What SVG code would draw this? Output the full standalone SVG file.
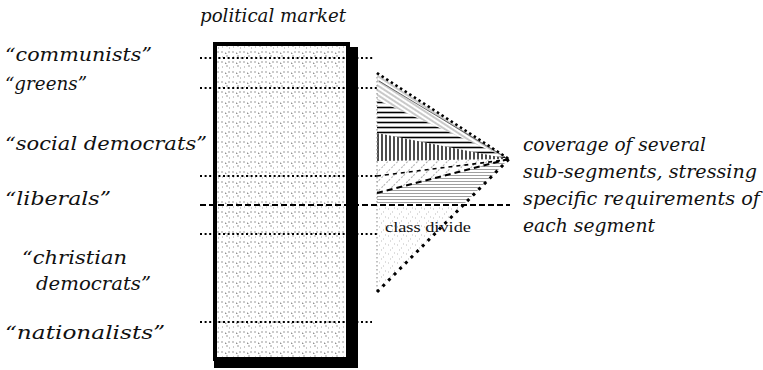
<svg xmlns="http://www.w3.org/2000/svg" width="763" height="370" viewBox="0 0 763 370">
<defs>
<style>
.lbl{font-family:"DejaVu Serif","Liberation Serif",serif;font-style:italic;font-size:19px;fill:#111}
.rt{font-family:"DejaVu Serif","Liberation Serif",serif;font-style:italic;font-size:19px;fill:#111}
.cd{font-family:"Liberation Serif",serif;font-size:15px;fill:#111}
.dot{fill:none;stroke:#000;stroke-width:2;stroke-dasharray:2 2.6}
.dash{fill:none;stroke:#000;stroke-width:2;stroke-dasharray:6 3}
</style>
<pattern id="stip" width="11" height="10" patternUnits="userSpaceOnUse">
<rect width="11" height="10" fill="#fff"/>
<path d="M1 2h2M5 3h1v1M8 2h2M2 7h1M6 6h2M9 8h1" stroke="#9a9a9a" stroke-width="1"/>
</pattern>
<pattern id="diag" width="4" height="4" patternUnits="userSpaceOnUse" patternTransform="rotate(33)">
<path d="M0 2h4" stroke="#777" stroke-width="0.8"/>
</pattern>
<pattern id="hor" width="6" height="5" patternUnits="userSpaceOnUse">
<path d="M0 2.5h6" stroke="#000" stroke-width="1.6"/>
</pattern>
<pattern id="ver" width="4" height="6" patternUnits="userSpaceOnUse">
<path d="M2 0v6" stroke="#000" stroke-width="1.4"/>
</pattern>
<pattern id="ldiag" width="7" height="7" patternUnits="userSpaceOnUse" patternTransform="rotate(-45)">
<path d="M0 3.5h7" stroke="#999" stroke-width="0.8" stroke-dasharray="2 2"/>
</pattern>
<pattern id="fhor" width="5" height="3" patternUnits="userSpaceOnUse">
<path d="M0 1.5h5" stroke="#888" stroke-width="0.8"/>
</pattern>
<pattern id="lstip" width="9" height="9" patternUnits="userSpaceOnUse">
<path d="M1 2h1M5 5h1M7 1h1M3 7h1" stroke="#aaa" stroke-width="0.8"/>
</pattern>
</defs>
<rect width="763" height="370" fill="#fff"/>

<g id="title"><text class="lbl" x="200" y="22" textLength="146" lengthAdjust="spacingAndGlyphs">political market</text></g>

<g id="labels">
<text class="lbl" x="5" y="61" textLength="147" lengthAdjust="spacingAndGlyphs">“communists”</text>
<text class="lbl" x="5" y="90" textLength="82" lengthAdjust="spacingAndGlyphs">“greens”</text>
<text class="lbl" x="5" y="150" textLength="202" lengthAdjust="spacingAndGlyphs">“social democrats”</text>
<text class="lbl" x="5" y="205" textLength="106" lengthAdjust="spacingAndGlyphs">“liberals”</text>
<text class="lbl" x="22" y="264" textLength="105" lengthAdjust="spacingAndGlyphs">“christian</text>
<text class="lbl" x="36" y="290" textLength="115" lengthAdjust="spacingAndGlyphs">democrats”</text>
<text class="lbl" x="5" y="339" textLength="160" lengthAdjust="spacingAndGlyphs">“nationalists”</text>
</g>

<g id="market">
<rect x="348" y="47" width="10" height="321" fill="#000"/>
<rect x="214" y="359" width="144" height="9" fill="#000"/>
<rect x="215" y="44" width="133" height="315" fill="url(#stip)" stroke="#000" stroke-width="4"/>
</g>

<g id="fan">
<polygon points="377,73 509,159 377,100" fill="url(#diag)"/>
<polygon points="377,100 509,159 377,133" fill="url(#hor)"/>
<polygon points="377,133 509,159 377,161" fill="url(#ver)"/>
<polygon points="377,161 509,159 377,193" fill="url(#ldiag)"/>
<polygon points="377,193 509,159 463,205 377,205" fill="url(#fhor)"/>
<polygon points="377,205 463,205 377,292" fill="url(#lstip)"/>
<line x1="377" y1="73" x2="377" y2="292" stroke="#999" stroke-width="1.2" stroke-dasharray="1.5 2.5"/>
<line x1="379" y1="81" x2="505" y2="157" stroke="#444" stroke-width="0.8"/>
<line x1="377" y1="176" x2="505" y2="160" stroke="#000" stroke-width="1.6" stroke-dasharray="4 4"/>
<line x1="377" y1="193" x2="509" y2="159" stroke="#000" stroke-width="2" stroke-dasharray="6 4"/>
<line x1="377" y1="73" x2="509" y2="159" stroke="#000" stroke-width="2.5" stroke-dasharray="2.5 3"/>
<line x1="377" y1="292" x2="509" y2="159" stroke="#000" stroke-width="3" stroke-dasharray="3 5"/>
<text class="cd" x="385" y="232" textLength="86" lengthAdjust="spacingAndGlyphs">class divide</text>
</g>

<g id="connectors">
<line class="dot" x1="200" y1="58" x2="373" y2="58"/>
<line class="dot" x1="200" y1="88" x2="378" y2="88"/>
<line class="dot" x1="200" y1="176" x2="378" y2="176"/>
<line class="dash" x1="200" y1="205" x2="510" y2="205"/>
<line class="dot" x1="200" y1="234" x2="378" y2="234"/>
<line class="dot" x1="200" y1="322" x2="372" y2="322"/>
</g>

<g id="note">
<text class="rt" x="523" y="151" textLength="183" lengthAdjust="spacingAndGlyphs">coverage of several</text>
<text class="rt" x="523" y="178" textLength="234" lengthAdjust="spacingAndGlyphs">sub-segments, stressing</text>
<text class="rt" x="523" y="205" textLength="237" lengthAdjust="spacingAndGlyphs">specific requirements of</text>
<text class="rt" x="523" y="232" textLength="132" lengthAdjust="spacingAndGlyphs">each segment</text>
</g>
</svg>
